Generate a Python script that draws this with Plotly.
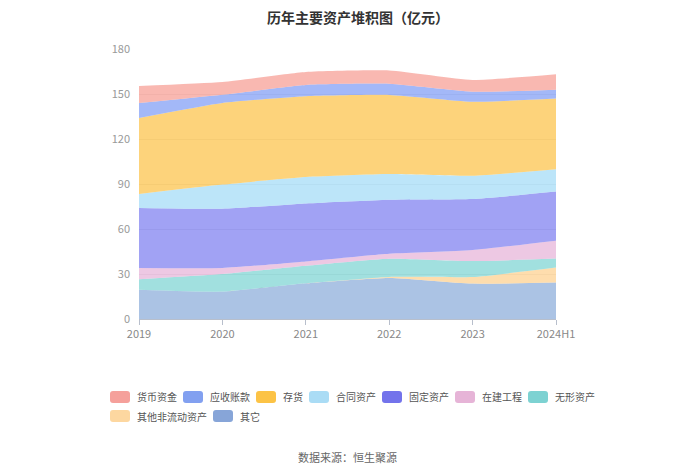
import plotly.graph_objects as go

years = ["2019", "2020", "2021", "2022", "2023", "2024H1"]

# values in 亿元
huobi = [11.4, 8.5, 8.7, 8.9, 7.9, 10.4]        # 货币资金
yingshou = [10.0, 5.5, 7.5, 7.4, 6.6, 5.8]      # 应收账款
cunhuo = [50.7, 54.4, 53.9, 52.8, 49.4, 47.2]   # 存货
hetong = [9.3, 16.1, 17.6, 17.1, 15.5, 14.8]    # 合同资产
guding = [40.0, 39.5, 38.6, 36.0, 34.0, 32.8]   # 固定资产
zaijian = [7.5, 4.0, 2.9, 3.3, 7.4, 11.9]       # 在建工程
wuxing = [7.0, 11.7, 11.7, 12.2, 10.6, 6.0]     # 无形资产
qitafei = [0.0, 0.0, 0.0, 0.6, 4.4, 10.0]       # 其他非流动资产
qita = [19.5, 18.3, 23.8, 27.4, 23.6, 24.3]     # 其它

# bottom to top: (name, values, area fill, legend swatch colour)
series = [
    ("其它", qita, "rgba(120,158,212,0.62)", "#87a5d8"),
    ("其他非流动资产", qitafei, "rgba(253,206,138,0.7)", "#fdd7a0"),
    ("无形资产", wuxing, "rgba(110,208,206,0.65)", "#7dd2d2"),
    ("在建工程", zaijian, "rgba(228,170,212,0.65)", "#e6b4d7"),
    ("固定资产", guding, "rgba(110,112,238,0.65)", "#7373eb"),
    ("合同资产", hetong, "rgba(160,218,246,0.7)", "#aadcf5"),
    ("存货", cunhuo, "rgba(252,190,60,0.68)", "#fcc346"),
    ("应收账款", yingshou, "rgba(120,150,245,0.68)", "#82a0f0"),
    ("货币资金", huobi, "rgba(246,150,140,0.68)", "#f5a09b"),
]

fig = go.Figure()
for name, vals, col, _ in series:
    fig.add_trace(go.Scatter(
        x=years, y=vals, name=name, mode="lines",
        stackgroup="one", fillcolor=col,
        line=dict(width=0, color=col, shape="spline", smoothing=0.5),
        hoverinfo="skip", showlegend=False,
    ))

W, H = 700, 474
ML, MR, MT, MB = 131, 152, 41, 163
PW, PH = W - ML - MR, H - MT - MB


def px2paper_x(px):
    return (px - ML) / PW


def px2paper_y(py):
    return (H - MB - py) / PH


# hand-drawn legend (two rows, widths depend on label length)
shapes = []
annotations = []
legend_rows = [
    ["货币资金", "应收账款", "存货", "合同资产", "固定资产", "在建工程", "无形资产"],
    ["其他非流动资产", "其它"],
]
swatch = {s[0]: s[3] for s in series}
row_y = [389, 408]
SW, SH, R, CH = 20, 12, 3, 10
for row, yc in zip(legend_rows, row_y):
    x = 102
    for name in row:
        x0, x1 = x, x + SW
        y0, y1 = yc - SH / 2, yc + SH / 2
        X = px2paper_x
        Y = px2paper_y
        path = (
            f"M{X(x0 + R)},{Y(y0)} L{X(x1 - R)},{Y(y0)} Q{X(x1)},{Y(y0)} {X(x1)},{Y(y0 + R)} "
            f"L{X(x1)},{Y(y1 - R)} Q{X(x1)},{Y(y1)} {X(x1 - R)},{Y(y1)} "
            f"L{X(x0 + R)},{Y(y1)} Q{X(x0)},{Y(y1)} {X(x0)},{Y(y1 - R)} "
            f"L{X(x0)},{Y(y0 + R)} Q{X(x0)},{Y(y0)} {X(x0 + R)},{Y(y0)} Z"
        )
        shapes.append(dict(type="path", xref="paper", yref="paper", path=path,
                           fillcolor=swatch[name], line=dict(width=0), layer="above"))
        annotations.append(dict(text=name, xref="paper", yref="paper",
                                x=X(x1 + 5), y=Y(yc), xanchor="left", yanchor="middle",
                                showarrow=False, font=dict(size=10, color="#555")))
        x += SW + 5 + CH * len(name) + 8

annotations.append(dict(text="数据来源：恒生聚源", xref="paper", yref="paper",
                        x=0.5, y=-0.51, xanchor="center", yanchor="middle",
                        showarrow=False, font=dict(size=11, color="#666")))

font_family = "Noto Sans CJK SC, Noto Sans, sans-serif"
fig.update_layout(
    width=W, height=H,
    margin=dict(l=ML, r=MR, t=MT, b=MB),
    paper_bgcolor="white", plot_bgcolor="white",
    font=dict(family=font_family, size=11, color="#666"),
    title=dict(text="<b>历年主要资产堆积图（亿元）</b>", x=0.5, xanchor="center",
               y=0.978, yanchor="middle", font=dict(size=14, color="#333")),
    showlegend=False,
    xaxis=dict(type="category", range=[0, 5], showgrid=False,
               showline=True, linecolor="#b8bfcc", linewidth=1,
               ticks="outside", ticklen=5, tickcolor="#b8bfcc",
               tickfont=dict(size=11, color="#888"), fixedrange=True),
    yaxis=dict(range=[0, 180], tickvals=[0, 30, 60, 90, 120, 150, 180],
               showgrid=True, gridcolor="#e8e8e8", gridwidth=1,
               zeroline=False, showline=False, ticks="",
               tickfont=dict(size=11, color="#999"), ticklabelstandoff=8),
    shapes=shapes,
    annotations=annotations,
)

fig.write_html("out.html")
